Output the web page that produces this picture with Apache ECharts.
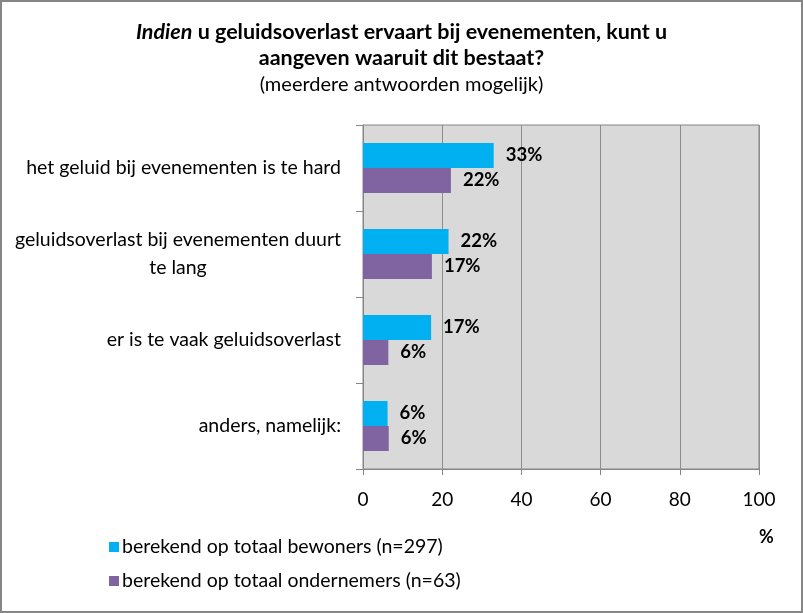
<!DOCTYPE html>
<html>
<head>
<meta charset="utf-8">
<script src="https://cdn.jsdelivr.net/npm/echarts@6/dist/echarts.min.js"></script>
<style>
  html, body { margin: 0; padding: 0; background: #fff; }
  #chart { width: 803px; height: 613px; box-sizing: border-box; border: 2px solid #868686; }
</style>
</head>
<body>
<div id="chart"></div>
<script>
// categorieen, van boven naar beneden
const categories = [
  "het geluid bij evenementen is te hard",
  "geluidsoverlast bij evenementen duurt\nte lang",
  "er is te vaak geluidsoverlast",
  "anders, namelijk:"
];
const bewoners = [33, 21.6, 17.2, 6.2];
const ondernemers = [22.2, 17.4, 6.4, 6.5];
const bewonersLabels = ["33%", "22%", "17%", "6%"];
const ondernemersLabels = ["22%", "17%", "6%", "6%"];
const xTicks = [0, 20, 40, 60, 80, 100];

const font = "Lato, 'Open Sans', sans-serif";
const chart = echarts.init(document.getElementById("chart"));

// elke regel van het label centreren binnen het blok
const catLabel = (s) => s.split("\n").map(l => "{c|" + l + "}").join("\n");

const option = {
  animation: false,
  textStyle: { fontFamily: font },
  title: [
    {
      left: "center",
      top: 12,
      text: "{i|Indien}{b| u geluidsoverlast ervaart bij evenementen, kunt u}\n{b|aangeven waaruit dit bestaat?}\n{s|(meerdere antwoorden mogelijk)}",
      textStyle: {
        rich: {
          i: { fontFamily: font, fontSize: 21.5, fontWeight: "bold", fontStyle: "italic", color: "#000", lineHeight: 26, align: "center" },
          b: { fontFamily: font, fontSize: 21.5, fontWeight: "bold", color: "#000", lineHeight: 26, align: "center" },
          s: { fontFamily: font, fontSize: 20, fontWeight: "normal", color: "#000", lineHeight: 28, align: "center" }
        }
      }
    },
    {
      left: 752,
      top: 521,
      text: "%",
      textStyle: { fontFamily: font, fontSize: 18, fontWeight: "bold", color: "#000" }
    }
  ],
  legend: {
    orient: "vertical",
    left: 102,
    top: 530,
    itemWidth: 10,
    itemHeight: 10,
    itemGap: 14,
    icon: "rect",
    textStyle: { fontFamily: font, fontSize: 19.5, color: "#000", padding: [0, 0, 0, -2] },
    data: ["berekend op totaal bewoners (n=297)", "berekend op totaal ondernemers (n=63)"]
  },
  grid: {
    left: 361,
    right: 42,
    top: 123,
    bottom: 142,
    show: true,
    backgroundColor: "#d9d9d9",
    borderWidth: 1,
    borderColor: "#868686"
  },
  xAxis: {
    type: "value",
    min: 0,
    max: 100,
    interval: 20,
    axisLine: { show: true, lineStyle: { color: "#868686" } },
    axisTick: { show: true, length: 6, lineStyle: { color: "#868686" } },
    axisLabel: {
      fontFamily: font, fontSize: 19, color: "#000", margin: 21,
      formatter: (v) => xTicks.includes(v) ? String(v) : ""
    },
    splitLine: { show: true, lineStyle: { color: "#8c8c8c", width: 1 } }
  },
  yAxis: {
    type: "category",
    inverse: true,
    data: categories,
    axisLine: { show: true, lineStyle: { color: "#868686" } },
    axisTick: { show: true, length: 7, lineStyle: { color: "#868686" } },
    axisLabel: {
      margin: 22,
      formatter: catLabel,
      rich: {
        c: { fontFamily: font, fontSize: 19.5, color: "#000", lineHeight: 28, align: "center" }
      }
    },
    splitLine: { show: false }
  },
  series: [
    {
      name: "berekend op totaal bewoners (n=297)",
      type: "bar",
      data: bewoners,
      barWidth: 25,
      barGap: "0%",
      itemStyle: { color: "#00b0f0" },
      label: {
        show: true, position: "right", distance: 12,
        fontFamily: font, fontSize: 18.5, fontWeight: "bold", color: "#000",
        formatter: (p) => bewonersLabels[p.dataIndex]
      }
    },
    {
      name: "berekend op totaal ondernemers (n=63)",
      type: "bar",
      data: ondernemers,
      barWidth: 25,
      barGap: "0%",
      itemStyle: { color: "#8064a2" },
      label: {
        show: true, position: "right", distance: 12,
        fontFamily: font, fontSize: 18.5, fontWeight: "bold", color: "#000",
        formatter: (p) => ondernemersLabels[p.dataIndex]
      }
    }
  ]
};
chart.setOption(option);
</script>
</body>
</html>
